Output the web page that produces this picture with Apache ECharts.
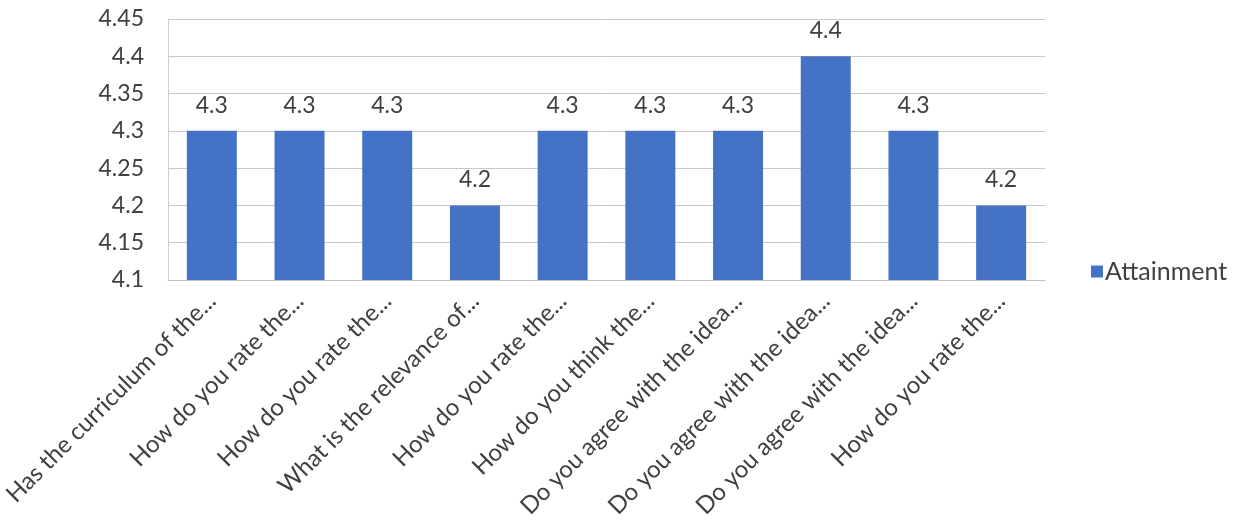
<!DOCTYPE html>
<html>
<head>
<meta charset="utf-8">
<script src="https://cdn.jsdelivr.net/npm/echarts@6/dist/echarts.min.js"></script>
<style>html,body{margin:0;padding:0;background:#fff;}#c{width:1250px;height:530px;}</style>
</head>
<body>
<div id="c"></div>
<script>
const categories = [
  "Has the curriculum of the...",
  "How do you rate the...",
  "How do you rate the...",
  "What is the relevance of...",
  "How do you rate the...",
  "How do you think the...",
  "Do you agree with the idea...",
  "Do you agree with the idea...",
  "Do you agree with the idea...",
  "How do you rate the..."
];
const attainment = [4.3, 4.3, 4.3, 4.2, 4.3, 4.3, 4.3, 4.4, 4.3, 4.2];
const seriesName = "Attainment";
const yMin = 4.1, yMax = 4.45, yStep = 0.05;

const font = "Lato, 'Open Sans', sans-serif";
const chart = echarts.init(document.getElementById('c'));
chart.setOption({
  animation: false,
  backgroundColor: '#fff',
  grid: { left: 167, right: 205, top: 19, bottom: 250, containLabel: false },
  legend: {
    data: [seriesName], left: 1086, top: 254, orient: 'vertical',
    icon: 'rect', itemWidth: 12, itemHeight: 12, itemGap: 6,
    textStyle: { fontFamily: font, fontSize: 25, color: '#404040', padding: [0, 0, 0, -3] }
  },
  xAxis: {
    type: 'category', data: categories,
    axisLine: { show: true, lineStyle: { color: '#bfbfbf', width: 1 } },
    axisTick: { show: false },
    axisLabel: { rotate: 45, interval: 0, fontFamily: font, fontSize: 24, color: '#404040', margin: 17,
      padding: [24, 0, 0, 0] }
  },
  yAxis: {
    type: 'value', min: yMin, max: yMax, interval: yStep,
    axisLine: { show: true, lineStyle: { color: '#d0d0d0' } },
    axisTick: { show: false },
    splitLine: { lineStyle: { color: '#c8c8c8', width: 1 } },
    axisLabel: { fontFamily: font, fontSize: 23, color: '#404040', margin: 24,
      formatter: v => String(parseFloat(v.toFixed(2))) }
  },
  series: [{
    name: seriesName, type: 'bar', data: attainment, barWidth: '57%',
    itemStyle: { color: '#4472c4' },
    label: { show: true, position: 'top', distance: 14, fontFamily: font, fontSize: 23, color: '#404040',
      formatter: p => String(p.value) }
  }]
});
</script>
</body>
</html>
